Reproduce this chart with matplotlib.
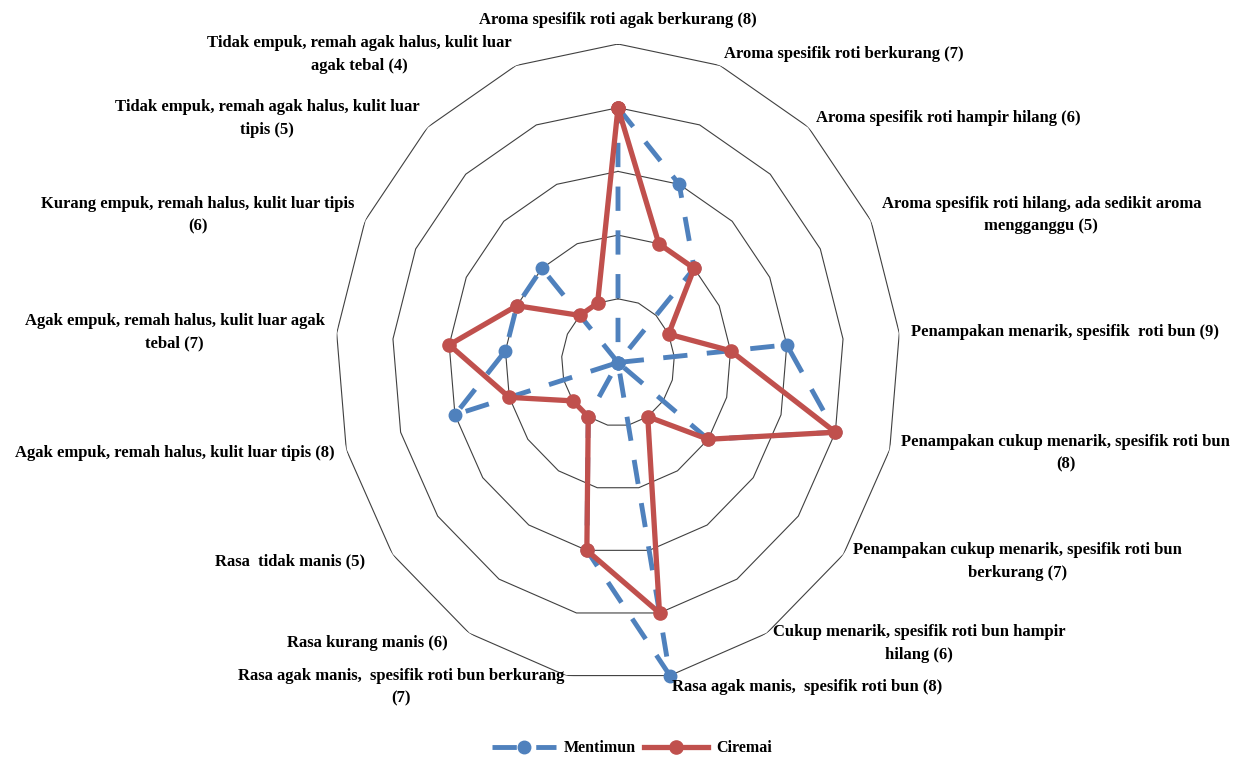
import matplotlib

matplotlib.use("Agg")
import matplotlib.pyplot as plt
import numpy as np

categories = [
    "Aroma spesifik roti agak berkurang (8)",
    "Aroma spesifik roti berkurang (7)",
    "Aroma spesifik roti hampir hilang (6)",
    "Aroma spesifik roti hilang, ada sedikit aroma\nmengganggu (5)",
    "Penampakan menarik, spesifik  roti bun (9)",
    "Penampakan cukup menarik, spesifik roti bun\n(8)",
    "Penampakan cukup menarik, spesifik roti bun\nberkurang (7)",
    "Cukup menarik, spesifik roti bun hampir\nhilang (6)",
    "Rasa agak manis,  spesifik roti bun (8)",
    "Rasa agak manis,  spesifik roti bun berkurang\n(7)",
    "Rasa kurang manis (6)",
    "Rasa  tidak manis (5)",
    "Agak empuk, remah halus, kulit luar tipis (8)",
    "Agak empuk, remah halus, kulit luar agak\ntebal (7)",
    "Kurang empuk, remah halus, kulit luar tipis\n(6)",
    "Tidak empuk, remah agak halus, kulit luar\ntipis (5)",
    "Tidak empuk, remah agak halus, kulit luar\nagak tebal (4)",
]
mentimun = [4, 3, 2, 0, 3, 4, 2, 0, 5, 3, 1, 0, 3, 2, 2, 2, 0]
ciremai = [4, 2, 2, 1, 2, 4, 2, 1, 4, 3, 1, 1, 2, 3, 2, 1, 1]
rings = [1, 2, 3, 4, 5]

# a few labels sit a little further in than the rest
label_nudge = {10: -15, 11: -18}

BLUE = "#4F81BD"
RED = "#C0504D"
FONT = "Liberation Serif"

n = len(categories)
theta = np.arange(n) * 2 * np.pi / n
theta_c = np.append(theta, theta[0])

fig = plt.figure(figsize=(12.39, 7.58), dpi=100)
ax = fig.add_axes([0.27078, 0.10158, 0.45601, 0.84037], projection="polar")
ax.set_aspect("auto")
ax.set_theta_zero_location("N")
ax.set_theta_direction(-1)
ax.set_ylim(0, rings[-1])
ax.grid(False)
ax.set_xticks([])
ax.set_yticks([])
ax.spines["polar"].set_visible(False)

for r in rings:
    ax.plot(theta_c, [r] * (n + 1), color="#404040", lw=0.8, zorder=1)

ax.plot(theta_c, mentimun + mentimun[:1], color=BLUE, lw=3.5,
        linestyle=(0, (5, 4)), marker="o", markersize=9, label="Mentimun",
        zorder=3, clip_on=False)
ax.plot(theta_c, ciremai + ciremai[:1], color=RED, lw=3.8, marker="o",
        markersize=9.5, label="Ciremai", zorder=4, clip_on=False)

for i, (t, lab) in enumerate(zip(theta, categories)):
    s, c = np.sin(t), np.cos(t)
    if abs(s) < 0.05:
        ha, va, off = "center", "bottom", 16
    else:
        ha = "left" if s > 0 else "right"
        va, off = "center", 12
    ax.annotate(lab, xy=(t, rings[-1]),
                xytext=(off * s + label_nudge.get(i, 0), off * c),
                textcoords="offset pixels", ha=ha, va=va,
                multialignment="center", fontsize=12, fontweight="bold",
                family=FONT, linespacing=1.55, annotation_clip=False)

fig.legend(loc="center", bbox_to_anchor=(0.51, 0.013), ncol=2, frameon=False,
           handlelength=4, columnspacing=0.5, handletextpad=0.5,
           prop={"family": FONT, "weight": "bold", "size": 11.5})

fig.savefig("out.png", dpi=100)
